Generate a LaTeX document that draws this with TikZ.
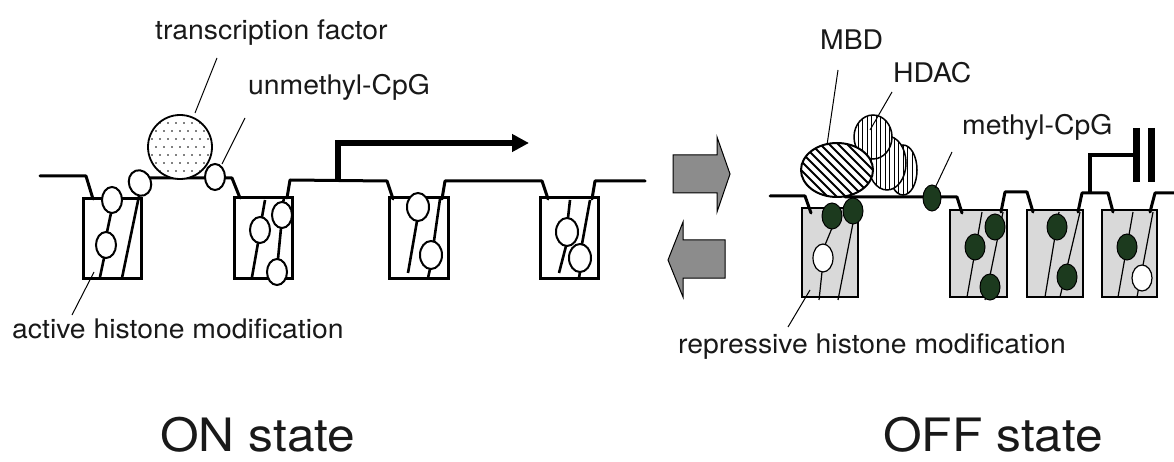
\documentclass[tikz,border=0pt]{standalone}
\usepackage{fontspec}
\setmainfont{TeX Gyre Heros}
\usetikzlibrary{arrows.meta,shapes.geometric}
\definecolor{mgreen}{RGB}{28,58,30}
\definecolor{txt}{RGB}{25,25,25}
\definecolor{arrgray}{RGB}{140,140,140}
\begin{document}
\begin{tikzpicture}[x=1pt,y=-1pt,
  dna/.style={line width=3pt,line join=round,line cap=round},
  lbox/.style={draw,line width=3pt,fill=white},
  rbox/.style={draw,line width=2.6pt,fill=gray!30},
  lstem/.style={line width=2.6pt},
  rstem/.style={line width=1.2pt},
  ucpg/.style={draw,fill=white,line width=2pt},
  mcpg/.style={draw=black,fill=mgreen,line width=1pt},
  leader/.style={line width=1pt},
  lbl/.style={anchor=base west,inner sep=0pt,text=txt,font=\fontsize{27}{30}\selectfont,xscale=1.05},
  big/.style={anchor=base west,inner sep=0pt,text=txt,font=\fontsize{46}{50}\selectfont,xscale=1.08},
  bigarrow/.style={draw=black,line width=1pt,fill=arrgray}]
\useasboundingbox (0,0) rectangle (1174,462);
\fill[white] (0,0) rectangle (1174,462);

% ================= LEFT (ON state) =================
% boxes
\draw[lbox] (83,199) rectangle (141,278);
\draw[lbox] (234,198) rectangle (292,278);
\draw[lbox] (389,198) rectangle (448,278);
\draw[lbox] (540,198) rectangle (598,278);

% DNA
\draw[dna] (40,176) -- (86,176) -- (93,199);
\draw[dna] (150,178) -- (232,178) -- (240,198);
\draw[dna] (287,198) -- (290,180) -- (387,181) -- (393,199);
\draw[dna] (442,199) -- (445,181) -- (542,181) -- (548,199);
\draw[dna] (592,199) -- (595,181) -- (645,181);

% stems box 1
\draw[lstem] (111,213) -- (107,232);
\draw[lstem] (104,258) -- (100,277);
\draw[lstem] (139,196) -- (122,278);
% stems box 2
\draw[lstem] (265,200) -- (262,217);
\draw[lstem] (258,243) -- (252,277);
\draw[lstem] (281,228) -- (278,259);
\draw[lstem] (284,199) -- (283,202);
% stems box 3
\draw[lstem] (417,221) -- (408,273);
\draw[lstem] (440,199) -- (434,241);
\draw[lstem] (430,269) -- (428,278);
% stems box 4
\draw[lstem] (570,200) -- (568,218);
\draw[lstem] (566,246) -- (559,273);
\draw[lstem] (590,200) -- (582,244);
\draw[lstem] (580,272) -- (579,278);

% transcription factor
\draw[line width=1.8pt,fill=white] (180,147) circle[radius=32pt];
\coordinate (tfc) at (180,147);
\begin{scope}
  \clip (180,147) circle[radius=31pt];
  \foreach \i in {-5,...,5}{
    \foreach \j in {-3,...,3}{
      \fill[black] (180+8*\i,147+16*\j) circle[radius=0.9pt];
      \fill[black] (184+8*\i,155+16*\j) circle[radius=0.9pt];
    }
  }
\end{scope}

% unmethylated CpG (open circles)
\node[ucpg,ellipse,minimum width=20pt,minimum height=26pt,inner sep=0pt] (u1) at (112,200) {};
\node[ucpg,ellipse,minimum width=20pt,minimum height=26pt,inner sep=0pt] (u2) at (106,245) {};
\draw[ucpg,rotate around={20:(140,183)}] (140,183) ellipse[x radius=11pt,y radius=13pt];
\coordinate (u3) at (140,183);
\draw[ucpg] (215,177) ellipse[x radius=10pt,y radius=13pt];
\coordinate (u4) at (215,177);
\draw[ucpg] (260,230) ellipse[x radius=10pt,y radius=13pt];
\draw[ucpg] (282,215) ellipse[x radius=10pt,y radius=13pt];
\draw[ucpg] (277,272) ellipse[x radius=10pt,y radius=13pt];
\draw[ucpg] (418,207) ellipse[x radius=11pt,y radius=14pt];
\draw[ucpg] (431,255) ellipse[x radius=11pt,y radius=14pt];
\draw[ucpg] (567,232) ellipse[x radius=11pt,y radius=14pt];
\draw[ucpg] (580,258) ellipse[x radius=11pt,y radius=14pt];

% transcription arrow
\coordinate (tss) at (338,179);
\coordinate (tssup) at (338,143);
\coordinate (tssend) at (529,143);
\draw[line width=5.5pt,-{Triangle[length=17pt,width=17pt]}] (tss) -- (tssup) -- (tssend);

% labels left
\node[lbl] (tf) at (155,40) {transcription factor};
\node[lbl] (um) at (248,95) {unmethyl-CpG};
\node[lbl] (act) at (12,338) {active histone modification};
\node[big] (on) at (160,451) {ON state};

\coordinate (tfa) at (217,58); \coordinate (tfb) at (195,113);
\coordinate (uma) at (245,118); \coordinate (umb) at (222,164);
\coordinate (aca) at (94,272); \coordinate (acb) at (72,315);
\draw[leader] (tfa) -- (tfb);
\draw[leader] (uma) -- (umb);
\draw[leader] (aca) -- (acb);

% ================= MIDDLE arrows =================
\draw[bigarrow] (673,155) -- (717,155) -- (717,137) -- (730,174) -- (717,212) -- (717,193) -- (673,193) -- cycle;
\draw[bigarrow] (725,240) -- (683,240) -- (683,222) -- (668,260) -- (683,297) -- (683,278) -- (725,278) -- cycle;

% ================= RIGHT (OFF state) =================
\draw[rbox] (802,208) rectangle (858,297);
\draw[rbox] (950,210) rectangle (1007,297);
\draw[rbox] (1027,210) rectangle (1083,297);
\draw[rbox] (1102,210) rectangle (1157,297);

% stems
\draw[rstem] (832,228) -- (825,245);
\draw[rstem] (822,272) -- (819,300);
\draw[rstem] (853,223) -- (838,300);
\draw[rstem] (967,297) -- (982,212);
\draw[rstem] (985,300) -- (1003,212);
\draw[rstem] (1045,297) -- (1059,212);
\draw[rstem] (1060,297) -- (1080,212);
\draw[rstem] (1118,297) -- (1133,212);
\draw[rstem] (1137,297) -- (1153,212);

% DNA
\draw[dna] (770,196) -- (805,196) -- (811,213);
\draw[dna] (845,197) -- (957,197) -- (962,213);
\draw[dna] (1001,212) -- (1005,192) -- (1027,192) -- (1033,212);
\draw[dna] (1078,212) -- (1082,193) -- (1108,193) -- (1113,212);
\draw[dna] (1150,212) -- (1155,193) -- (1174,193);

% repression symbol
\draw[line width=4.5pt] (1090,193) -- (1090,155) -- (1135,155);
\draw[line width=7pt] (1136,128) -- (1136,182);
\draw[line width=7pt] (1151,128) -- (1151,182);

% HDAC (three ellipses, back to front)
\foreach \cx/\cy/\rx/\ry in {903/170/14/25, 887/163/19/27, 873/137/19/22}{
  \fill[white] (\cx,\cy) ellipse[x radius=\rx pt,y radius=\ry pt];
  \begin{scope}
    \clip (\cx,\cy) ellipse[x radius=\rx pt,y radius=\ry pt];
    \foreach \xx in {840,844.5,...,930}{
      \draw[line width=0.8pt] (\xx,100) -- (\xx,200);
    }
  \end{scope}
  \draw[line width=1.5pt] (\cx,\cy) ellipse[x radius=\rx pt,y radius=\ry pt];
}

% MBD
\fill[white] (837,170) ellipse[x radius=36pt,y radius=27pt];
\begin{scope}
  \clip (837,170) ellipse[x radius=36pt,y radius=27pt];
  \foreach \k in {-99,-90,...,99}{
    \draw[line width=2pt] (837+\k-40,130) -- (837+\k+40,210);
  }
\end{scope}
\draw[line width=2pt] (837,170) ellipse[x radius=36pt,y radius=27pt];
\coordinate (mbd) at (837,170);

% methyl-CpG (filled) and remaining unmethylated
\draw[mcpg] (932,198) ellipse[x radius=9pt,y radius=13pt];
\draw[mcpg] (832,216) ellipse[x radius=10pt,y radius=13pt];
\draw[mcpg] (853,211) ellipse[x radius=10pt,y radius=13pt];
\draw[mcpg] (975,247) ellipse[x radius=10pt,y radius=13pt];
\draw[mcpg] (995,227) ellipse[x radius=10pt,y radius=13pt];
\draw[mcpg] (990,287) ellipse[x radius=10pt,y radius=13pt];
\draw[mcpg] (1057,227) ellipse[x radius=10pt,y radius=13pt];
\draw[mcpg] (1067,277) ellipse[x radius=10pt,y radius=13pt];
\draw[mcpg] (1127,247) ellipse[x radius=10pt,y radius=13pt];
\draw[draw=black,fill=white,line width=1.2pt] (823,258) ellipse[x radius=10pt,y radius=14pt];
\draw[draw=black,fill=white,line width=1.2pt] (1142,278) ellipse[x radius=10pt,y radius=13pt];

% labels right
\node[lbl] (mbdl) at (820,50) {MBD};
\node[lbl] (hdacl) at (893,83) {HDAC};
\node[lbl] (mcl) at (962,135) {methyl-CpG};
\node[lbl] (rep) at (678,353) {repressive histone modification};
\node[big] (off) at (883,451) {OFF state};

\coordinate (mba) at (838,70); \coordinate (mbb) at (827,145);
\coordinate (hda) at (892,92); \coordinate (hdb) at (870,130);
\coordinate (mca) at (952,152); \coordinate (mcb) at (935,188);
\coordinate (rpa) at (810,290); \coordinate (rpb) at (788,327);
\draw[leader] (mba) -- (mbb);
\draw[leader] (hda) -- (hdb);
\draw[leader] (mca) -- (mcb);
\draw[leader] (rpa) -- (rpb);
\end{tikzpicture}
\end{document}
